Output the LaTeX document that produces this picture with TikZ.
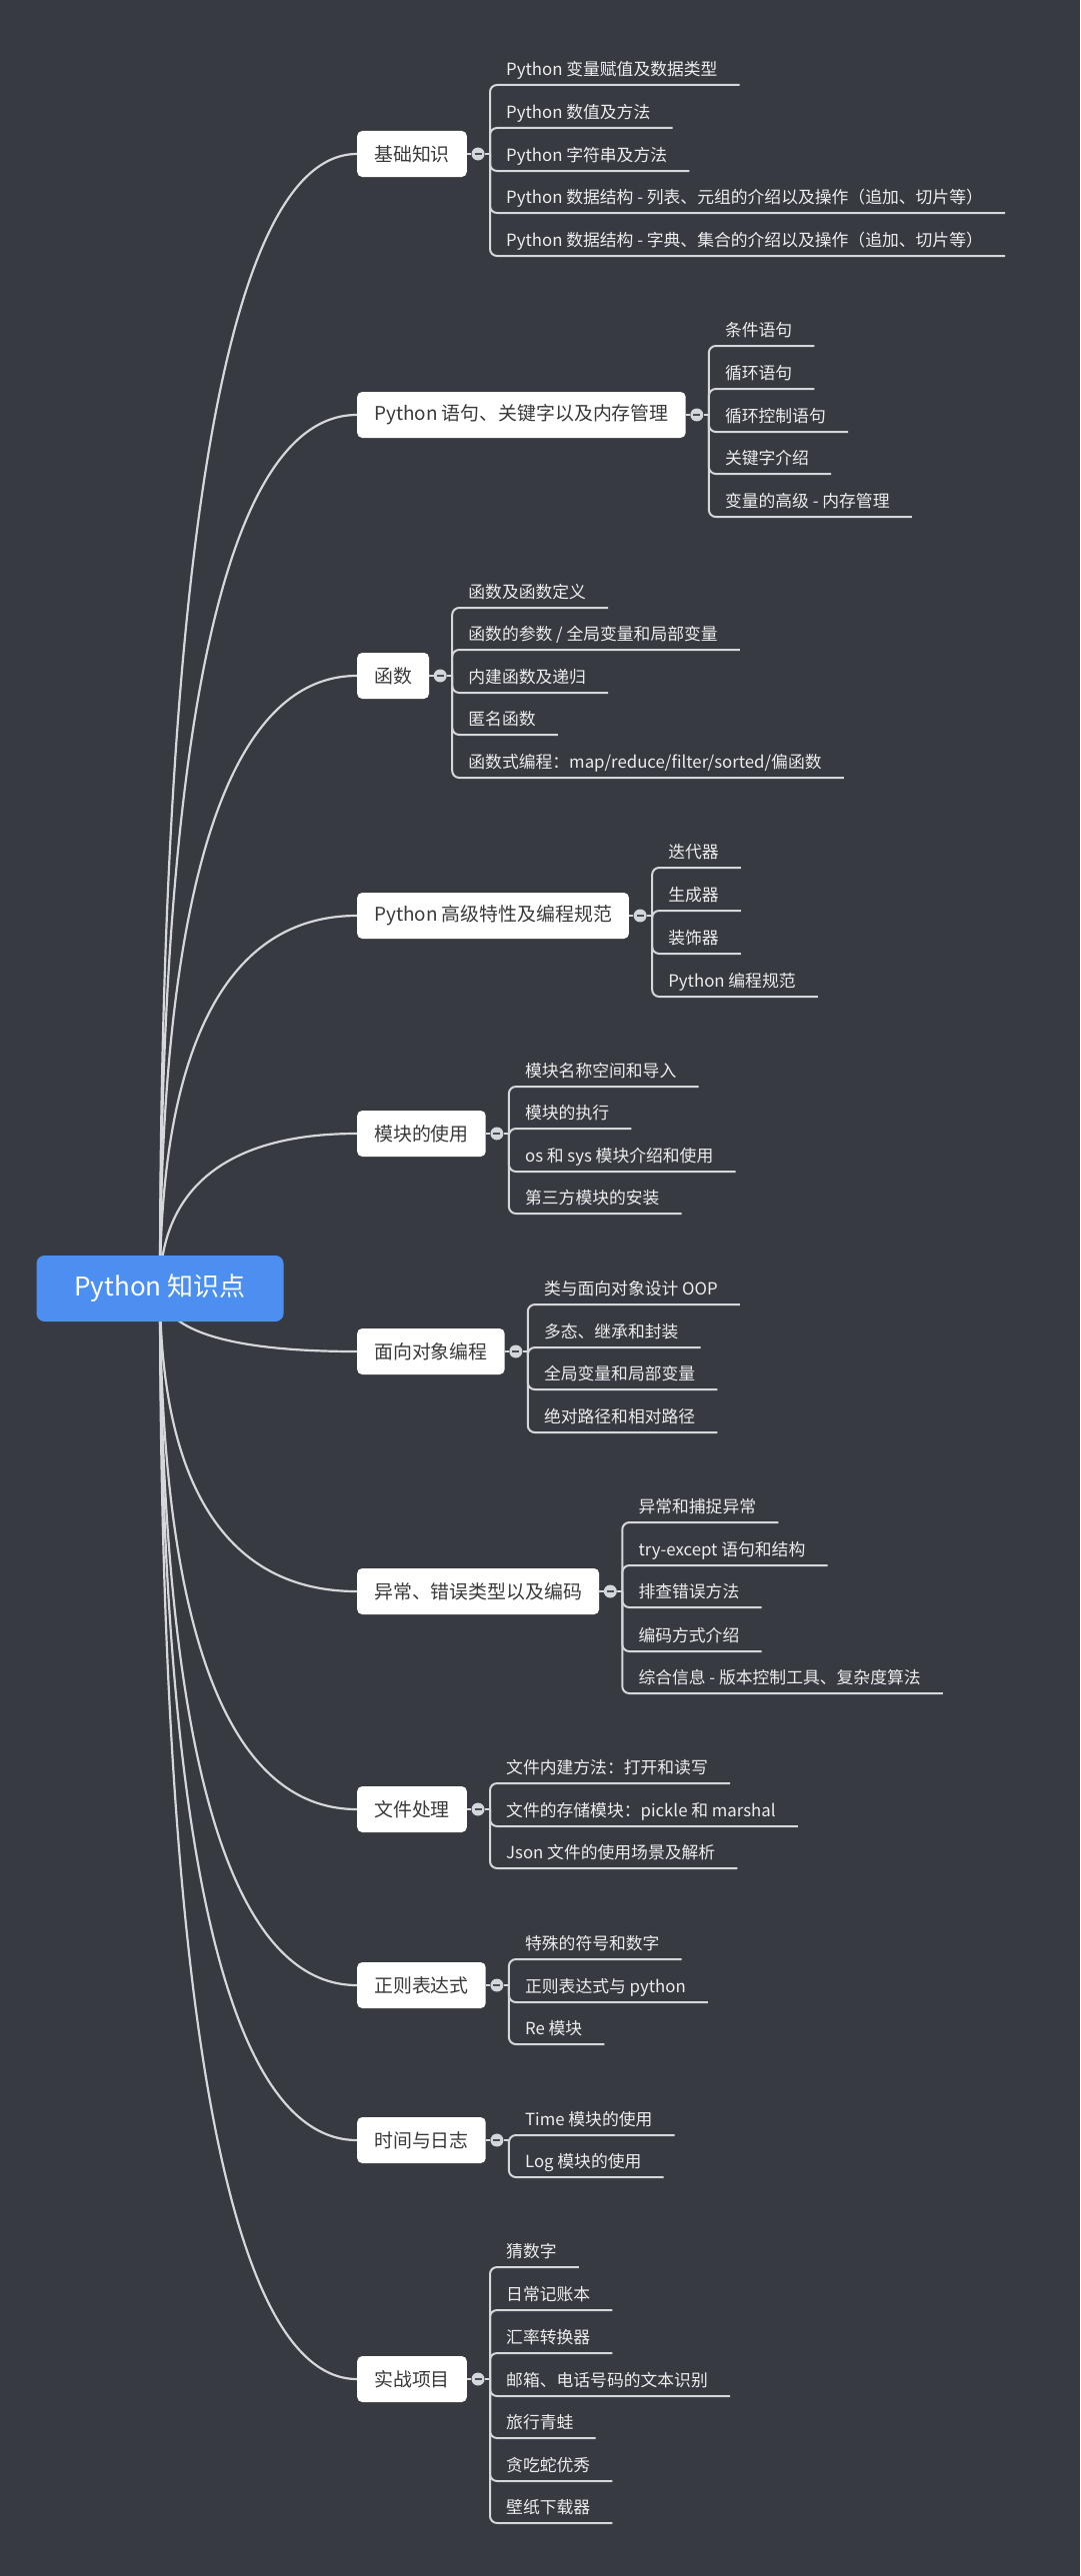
\documentclass[tikz,border=0pt]{standalone}
\usepackage{fontspec}
\setmainfont{Noto Sans CJK SC}
\usetikzlibrary{calc}
\pgfdeclarelayer{background}
\pgfsetlayers{background,main}
\definecolor{bgc}{HTML}{383A41}
\definecolor{linec}{HTML}{D6D7DA}
\definecolor{subtext}{HTML}{EDEDEE}
\definecolor{boxtext}{HTML}{3A3A3A}
\definecolor{rootfill}{HTML}{4C8FF0}
\definecolor{dotfill}{HTML}{D3D6DB}
\definecolor{dotminus}{HTML}{4A4D55}
\tikzset{
  rootbox/.style={fill=rootfill, rounded corners=8pt, minimum width=247pt, minimum height=66pt,
    text=white, font=\fontsize{26}{30}\selectfont, inner sep=0pt},
  branchbox/.style={fill=white, rounded corners=5pt, minimum height=46pt, inner xsep=17pt,
    inner ysep=0pt, text=boxtext, font=\fontsize{18.9}{22}\selectfont, anchor=west},
  subitem/.style={anchor=south west, inner xsep=0pt, inner ysep=5.5pt, text height=14pt,
    text depth=4pt, text=subtext, font=\fontsize{16.8}{20}\selectfont},
  togglecircle/.style={circle, fill=dotfill, minimum size=13pt, inner sep=0pt,
    path picture={\draw[line width=1.6pt, dotminus]
      ([xshift=-3.5pt]path picture bounding box.center) -- ([xshift=3.5pt]path picture bounding box.center);}},
  rootline/.style={draw=linec, line width=2.2pt},
  subline/.style={draw=linec, line width=2pt, rounded corners=7pt},
  linkline/.style={draw=linec, line width=2pt}
}
% #1 name, #2 centre y, #3 label, #4 list of underline-y/text
\newcommand\mmbranch[4]{%
  \node[branchbox] (#1) at (357,#2) {#3};
  \begin{pgfonlayer}{background}
    \draw[rootline] (root.center) .. controls (160,{1290+(#2-1290)*0.55}) and (209,#2) .. (#1.west);
  \end{pgfonlayer}
  \node[togglecircle] (#1d) at ([xshift=11pt]#1.east) {};
  \coordinate (#1j) at ([xshift=23pt]#1.east);
  \draw[linkline] (#1.east) -- (#1d) -- (#1j);
  \foreach \uy/\txt [count=\k] in {#4} {
    \path (#1j) ++(16,{\uy-#2}) node[subitem] (#1-\k) {\txt};
    \draw[subline] (#1j) |- (#1-\k.south west) -- ([xshift=22pt]#1-\k.south east);
  }
}
\begin{document}
\begin{tikzpicture}[x=1pt,y=-1pt]
\begin{pgfonlayer}{background}
  \fill[bgc] (0,0) rectangle (1080,2577);
\end{pgfonlayer}
\useasboundingbox (0,0) rectangle (1080,2577);
\node[rootbox] (root) at (160,1289) {Python 知识点};

\mmbranch{b1}{154}{基础知识}{85/{Python 变量赋值及数据类型}, 128/{Python 数值及方法}, 171/{Python 字符串及方法}, 213/{Python 数据结构 - 列表、元组的介绍以及操作（追加、切片等）}, 256/{Python 数据结构 - 字典、集合的介绍以及操作（追加、切片等）}}

\mmbranch{b2}{415}{Python 语句、关键字以及内存管理}{346/{条件语句}, 389/{循环语句}, 432/{循环控制语句}, 474/{关键字介绍}, 517/{变量的高级 - 内存管理}}

\mmbranch{b3}{676}{函数}{608/{函数及函数定义}, 650/{函数的参数 / 全局变量和局部变量}, 693/{内建函数及递归}, 735/{匿名函数}, 778/{函数式编程：map/reduce/filter/sorted/偏函数}}

\mmbranch{b4}{916}{Python 高级特性及编程规范}{868/{迭代器}, 911/{生成器}, 954/{装饰器}, 997/{Python 编程规范}}

\mmbranch{b5}{1134}{模块的使用}{1087/{模块名称空间和导入}, 1129/{模块的执行}, 1172/{os 和 sys 模块介绍和使用}, 1214/{第三方模块的安装}}

\mmbranch{b6}{1352}{面向对象编程}{1305/{类与面向对象设计 OOP}, 1348/{多态、继承和封装}, 1390/{全局变量和局部变量}, 1433/{绝对路径和相对路径}}

\mmbranch{b7}{1592}{异常、错误类型以及编码}{1523/{异常和捕捉异常}, 1566/{try-except 语句和结构}, 1608/{排查错误方法}, 1652/{编码方式介绍}, 1694/{综合信息 - 版本控制工具、复杂度算法}}

\mmbranch{b8}{1810}{文件处理}{1784/{文件内建方法：打开和读写}, 1827/{文件的存储模块：pickle 和 marshal}, 1869/{Json 文件的使用场景及解析}}

\mmbranch{b9}{1986}{正则表达式}{1960/{特殊的符号和数字}, 2003/{正则表达式与 python}, 2045/{Re 模块}}

\mmbranch{b10}{2141}{时间与日志}{2136/{Time 模块的使用}, 2178/{Log 模块的使用}}

\mmbranch{b11}{2380}{实战项目}{2268/{猜数字}, 2311/{日常记账本}, 2354/{汇率转换器}, 2397/{邮箱、电话号码的文本识别}, 2439/{旅行青蛙}, 2482/{贪吃蛇优秀}, 2524/{壁纸下载器}}
\end{tikzpicture}
\end{document}
